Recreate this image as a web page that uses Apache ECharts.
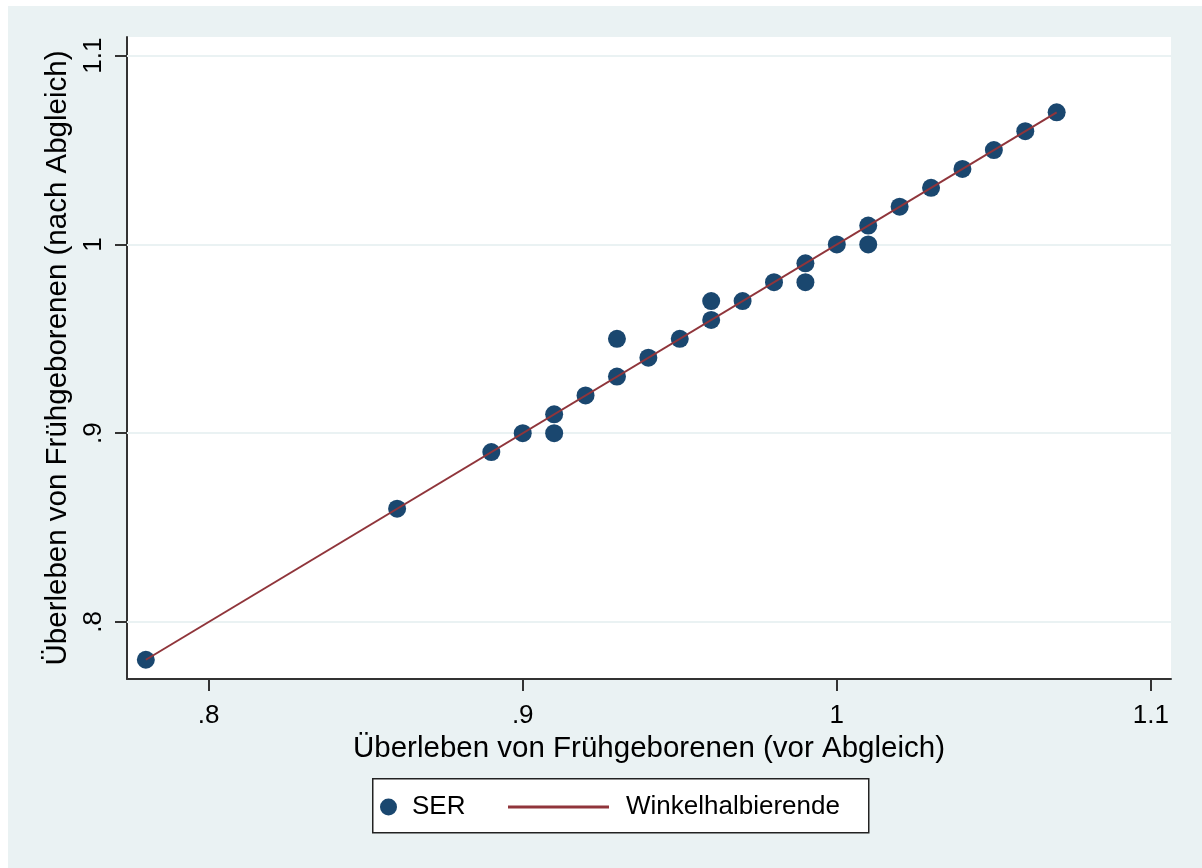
<!DOCTYPE html>
<html>
<head>
<meta charset="utf-8">
<script src="https://cdn.jsdelivr.net/npm/echarts@6/dist/echarts.min.js"></script>
<style>
html,body{margin:0;padding:0;background:#ffffff;}
#c{position:absolute;left:8px;top:6px;width:1194px;height:862px;background:#EAF2F3;}
</style>
</head>
<body>
<div id="c"></div>
<script>
// data
var serX = [0.78, 0.86, 0.89, 0.90, 0.91, 0.91, 0.92, 0.93, 0.93, 0.94, 0.95, 0.96, 0.96, 0.97, 0.98, 0.99, 0.99, 1.00, 1.01, 1.01, 1.02, 1.03, 1.04, 1.05, 1.06, 1.07];
var serY = [0.78, 0.86, 0.89, 0.90, 0.91, 0.90, 0.92, 0.93, 0.95, 0.94, 0.95, 0.96, 0.97, 0.97, 0.98, 0.99, 0.98, 1.00, 1.01, 1.00, 1.02, 1.03, 1.04, 1.05, 1.06, 1.07];
var diagX = [0.78, 1.07];
var diagY = [0.78, 1.07];
var xTicks = [0.8, 0.9, 1.0, 1.1];
var yTicks = [0.8, 0.9, 1.0, 1.1];
var xTitle = 'Überleben von Frühgeborenen (vor Abgleich)';
var yTitle = 'Überleben von Frühgeborenen (nach Abgleich)';
var seriesNames = ['SER', 'Winkelhalbierende'];

var FONT = '"Liberation Sans", Arial, sans-serif';
var NAVY = '#1A476F';
var MAROON = '#90353B';
function fmt(v){
  var s = (Math.round(v*10)/10).toString();
  if (s.indexOf('0.') === 0) s = s.substring(1);
  return s;
}
var scatterData = serX.map(function(x,i){return [x, serY[i]];});
var lineData = diagX.map(function(x,i){return [x, diagY[i]];});

var chart = echarts.init(document.getElementById('c'), null, {renderer:'canvas'});
var OX = 8, OY = 6;
chart.setOption({
  backgroundColor: '#EAF2F3',
  animation: false,
  grid: {
    left: 127 - OX, top: 37 - OY, right: 1202 - 1171, bottom: 868 - 679,
    show: true, backgroundColor: '#ffffff', borderWidth: 0
  },
  xAxis: {
    type: 'value', min: 0.774, max: 1.1064,
    name: xTitle, nameLocation: 'middle', nameGap: 50,
    nameTextStyle: {fontFamily: FONT, fontSize: 29.5, color: '#000'},
    axisLine: {show: true, onZero: false, lineStyle: {color: '#333', width: 2}},
    axisTick: {show: true, length: 12, customValues: xTicks, lineStyle: {color: '#333', width: 2}},
    axisLabel: {customValues: xTicks, formatter: fmt, margin: 24, fontFamily: FONT, fontSize: 26, color: '#000'},
    splitLine: {show: false}
  },
  yAxis: {
    type: 'value', min: 0.7698, max: 1.1099,
    name: yTitle, nameLocation: 'middle', nameGap: 51, nameRotate: 90,
    nameTextStyle: {fontFamily: FONT, fontSize: 29.5, color: '#000'},
    axisLine: {show: true, onZero: false, lineStyle: {color: '#333', width: 2}},
    axisTick: {show: true, length: 12, customValues: yTicks, lineStyle: {color: '#333', width: 2}},
    axisLabel: {customValues: yTicks, formatter: fmt, rotate: 90, margin: 20, fontFamily: FONT, fontSize: 26, color: '#000'},
    splitLine: {show: false}
  },
  legend: [{
    data: [{name: seriesNames[0], icon: 'circle'}],
    left: 375 - OX, top: 789 - OY, itemWidth: 17, itemHeight: 17,
    textStyle: {fontFamily: FONT, fontSize: 26, color: '#000', padding: [0,0,0,10]}
  },{
    data: [{name: seriesNames[1], icon: 'rect'}],
    left: 503 - OX, top: 789 - OY, itemWidth: 101, itemHeight: 3,
    itemStyle: {color: MAROON},
    textStyle: {fontFamily: FONT, fontSize: 26, color: '#000', padding: [0,0,0,12]}
  }],
  graphic: [{
    type: 'rect', left: 372 - OX, top: 778 - OY, z: -1,
    shape: {width: 496, height: 54},
    style: {fill: '#ffffff', stroke: '#222', lineWidth: 1.5}
  }],
  series: [{
    name: seriesNames[1], type: 'line', data: lineData, symbol: 'none', z: 3,
    lineStyle: {color: MAROON, width: 2}, itemStyle: {color: MAROON},
    markLine: {
      silent: true, symbol: 'none', label: {show: false},
      lineStyle: {color: '#EAF2F3', width: 2, type: 'solid'},
      data: yTicks.map(function(v){return {yAxis: v};}),
      z: 1
    }
  },{
    name: seriesNames[0], type: 'scatter', data: scatterData, symbol: 'circle', symbolSize: 18, z: 2,
    itemStyle: {color: NAVY, opacity: 1}
  }]
});
</script>
</body>
</html>
